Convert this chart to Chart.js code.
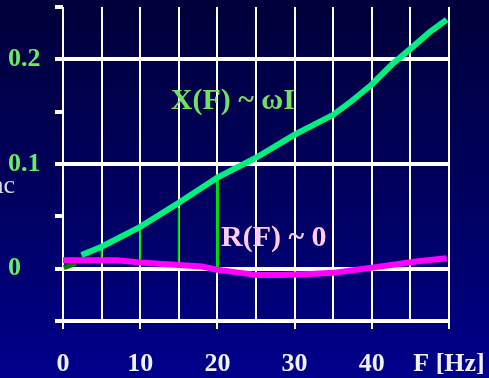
<!DOCTYPE html>
<html lang="en">
<head>
    <meta charset="UTF-8">
    <title>X(F) ~ ωI, R(F) ~ 0</title>
    <style>
        html, body { margin: 0; padding: 0; }
        body {
            width: 489px;
            height: 378px;
            overflow: hidden;
            background: linear-gradient(to bottom, #00003a 0%, #00005e 50%, #00008c 100%);
        }
        canvas { display: block; }
    </style>
</head>
<body>
    <canvas id="grafico" width="489" height="378"></canvas>

    <script src="https://cdn.jsdelivr.net/npm/chart.js"></script>
    <script>
        // Reactance curve X(F)
        const freqX = [2.4, 5, 10, 15, 20, 25, 30, 35, 37.2, 40, 42.6, 45, 47.5, 49.7];
        const valoresX = [0.013, 0.021, 0.040, 0.063, 0.087, 0.106, 0.128, 0.147, 0.159, 0.176, 0.195, 0.210, 0.226, 0.238];

        // Resistance curve R(F)
        const freqR = [0, 5, 7, 10, 14, 18, 20, 23, 25, 28, 32, 35, 38, 40, 43, 46, 49.7];
        const valoresR = [0.008, 0.008, 0.008, 0.006, 0.004, 0.002, -0.001, -0.004, -0.006, -0.006, -0.005, -0.004, -0.001, 0.001, 0.004, 0.007, 0.010];

        // Vertical green segments between R and X
        const freqVert = [5, 10, 15, 20];
        const baseVert = [0.011, 0.008, 0.005, 0.000];
        const topoVert = [0.018, 0.039, 0.058, 0.090];

        // small dark green piece at the origin
        const freqInicio = [0.1, 1.7];
        const valoresInicio = [0.001, 0.005];

        // Axis tick labels
        const rotulosY = { 0: '0', 10: '0.1', 20: '0.2' };
        const rotulosX = { 0: '0', 10: '10', 20: '20', 30: '30', 40: '40', 50: 'F [Hz]' };

        const serif = '"Liberation Serif", "Times New Roman", serif';

        function pontos(xs, ys) {
            return xs.map((x, i) => ({ x: x, y: ys[i] }));
        }

        const datasets = [
            {
                data: pontos(freqX, valoresX),
                borderColor: '#00f080',
                borderWidth: 6,
                pointRadius: 0,
                tension: 0,
                order: 0
            },
            {
                data: pontos(freqR, valoresR),
                borderColor: '#ff00ff',
                borderWidth: 6,
                pointRadius: 0,
                tension: 0,
                order: 1
            },
            {
                data: pontos(freqInicio, valoresInicio),
                borderColor: '#007a00',
                borderWidth: 5,
                pointRadius: 0,
                order: 3
            }
        ];

        freqVert.forEach((f, i) => {
            datasets.push({
                data: [{ x: f, y: baseVert[i] }, { x: f, y: topoVert[i] }],
                borderColor: '#00e000',
                borderWidth: i === 3 ? 3 : 2,
                pointRadius: 0,
                order: 2
            });
        });

        // annotation texts
        const textos = {
            id: 'textos',
            afterDatasetsDraw(chart) {
                const ctx = chart.ctx;
                const sx = chart.scales.x, sy = chart.scales.y;
                ctx.save();
                ctx.textAlign = 'center';
                ctx.textBaseline = 'middle';
                ctx.font = 'bold 30px ' + serif;
                ctx.fillStyle = '#70e060';
                ctx.fillText('X(F) ~ ωI', sx.getPixelForValue(22), sy.getPixelForValue(0.160));
                ctx.fillStyle = '#ffccf0';
                ctx.fillText('R(F) ~ 0', sx.getPixelForValue(27.3), sy.getPixelForValue(0.029));
                ctx.font = '26px ' + serif;
                ctx.fillStyle = '#d8d8e8';
                ctx.textAlign = 'right';
                ctx.fillText('ac', 15, 186);
                ctx.restore();
            }
        };

        const chaveY = v => Math.round(v * 100);

        new Chart(document.getElementById('grafico'), {
            type: 'line',
            data: { datasets: datasets },
            options: {
                responsive: false,
                animation: false,
                events: [],
                layout: { padding: { left: 8, right: 40, top: 7, bottom: 0 } },
                plugins: {
                    legend: { display: false },
                    tooltip: { enabled: false }
                },
                scales: {
                    x: {
                        type: 'linear',
                        min: 0,
                        max: 50,
                        afterFit: s => { s.height = 57; s.paddingLeft = 0; s.paddingRight = 0; },
                        border: { display: false },
                        grid: {
                            color: '#ffffff',
                            lineWidth: 2,
                            tickLength: 8,
                            tickColor: c => (c.tick && c.tick.value % 10 !== 0) ? 'rgba(0,0,0,0)' : '#ffffff'
                        },
                        ticks: {
                            stepSize: 5,
                            autoSkip: false,
                            maxRotation: 0,
                            minRotation: 0,
                            padding: 20,
                            color: '#f0f0ff',
                            font: { family: serif, weight: 'bold', size: 26 },
                            callback: v => rotulosX[v] !== undefined ? rotulosX[v] : ''
                        }
                    },
                    y: {
                        type: 'linear',
                        min: -0.05,
                        max: 0.25,
                        afterFit: s => { s.width = 55; s.paddingTop = 0; s.paddingBottom = 0; },
                        border: { display: false },
                        grid: {
                            color: c => (c.tick && chaveY(c.tick.value) % 10 === 5) ? 'rgba(0,0,0,0)' : '#ffffff',
                            lineWidth: 4,
                            tickLength: 8,
                            tickColor: '#ffffff'
                        },
                        ticks: {
                            stepSize: 0.05,
                            autoSkip: false,
                            crossAlign: 'far',
                            color: '#66ee66',
                            font: c => ({
                                family: serif,
                                weight: 'bold',
                                size: (c.tick && rotulosY[chaveY(c.tick.value)] !== undefined) ? 26 : 1
                            }),
                            callback: v => rotulosY[chaveY(v)] !== undefined ? rotulosY[chaveY(v)] : ''
                        }
                    }
                }
            },
            plugins: [textos]
        });
    </script>
</body>
</html>
